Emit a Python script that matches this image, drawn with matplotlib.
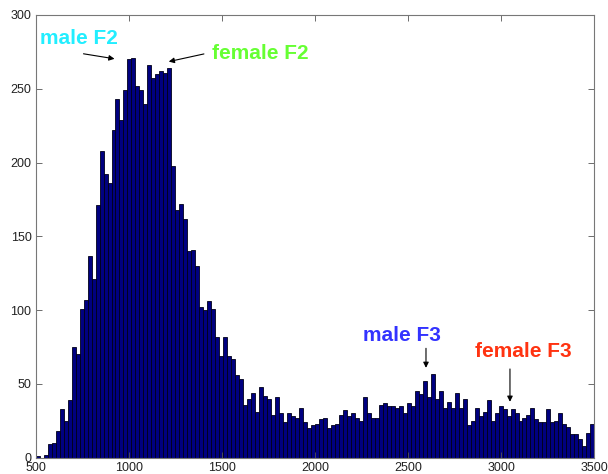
import matplotlib
matplotlib.use("Agg")
import matplotlib.pyplot as plt
import numpy as np

plt.rcParams['font.family'] = ['Liberation Sans', 'DejaVu Sans']

# Histograma das frequencias (140 classes entre 500 e 3500 Hz)
xMin = 500
xMax = 3500
nClasses = 140

contagens = [
    1, 0, 2, 9, 10, 18, 33, 25, 39, 75, 70, 101, 107, 137, 121, 171, 208, 192, 186, 222, 243, 229, 249, 270,
    271, 252, 249, 240, 266, 257, 260, 262, 261, 264, 198, 168, 172, 162, 140, 141, 130, 102, 100, 106, 101, 82, 69, 82,
    69, 67, 56, 53, 36, 40, 44, 31, 48, 42, 40, 29, 41, 30, 24, 30, 28, 27, 34, 24, 20, 22, 23, 26,
    27, 20, 22, 23, 29, 32, 28, 30, 27, 25, 41, 30, 27, 27, 36, 37, 35, 35, 34, 35, 30, 37, 35, 45, 43, 52, 41,
    57, 40, 45, 34, 38, 34, 44, 34, 40, 22,
    25, 34, 28, 31, 39, 25, 30, 35, 33, 28, 33, 30, 25, 27, 29, 34, 26, 24, 24, 33, 24, 25, 30, 23, 21, 16, 16, 13, 8, 17, 23,
]

# Rotulos: texto, posicao do texto, inicio e ponta da seta
rotulos = ["male F2", "female F2", "male F3", "female F3"]
coresRotulos = ["#22EEFF", "#66FF33", "#3333FF", "#FF3311"]
posTexto = [(732, 284), (1704, 274), (2467, 83), (3117, 72)]
inicioSeta = [(742, 274), (1418, 274), (2596, 76), (3047, 62)]
pontaSeta = [(938, 270), (1200, 268), (2596, 59), (3047, 36)]

largura = (xMax - xMin) / nClasses
bordas = xMin + largura * np.arange(nClasses)

fig = plt.figure(figsize=(6.08, 4.74), dpi=100)
ax = fig.add_axes([0.0587, 0.0344, 0.9188, 0.934])

ax.bar(bordas, contagens, width=largura, align='edge',
       color='#000080', edgecolor='#000018', linewidth=0.6)

for i in range(len(rotulos)):
    ax.annotate('', xy=pontaSeta[i], xytext=inicioSeta[i],
                arrowprops=dict(arrowstyle='-|>', color='black', lw=0.8, mutation_scale=8))
    ax.text(posTexto[i][0], posTexto[i][1], rotulos[i], color=coresRotulos[i],
            fontsize=15, fontweight='bold', ha='center', va='center')

ax.set_xlim(xMin, xMax)
ax.set_ylim(0, 300)
ax.set_xticks(np.arange(500, 3501, 500))
ax.set_yticks(np.arange(0, 301, 50))
ax.tick_params(direction='in', length=4, width=0.6, colors='#555555',
               labelcolor='#222222', labelsize=9, top=True, right=True, pad=3)
for s in ax.spines.values():
    s.set_color('#777777')
    s.set_linewidth(0.8)

fig.savefig('out.png', dpi=100)
